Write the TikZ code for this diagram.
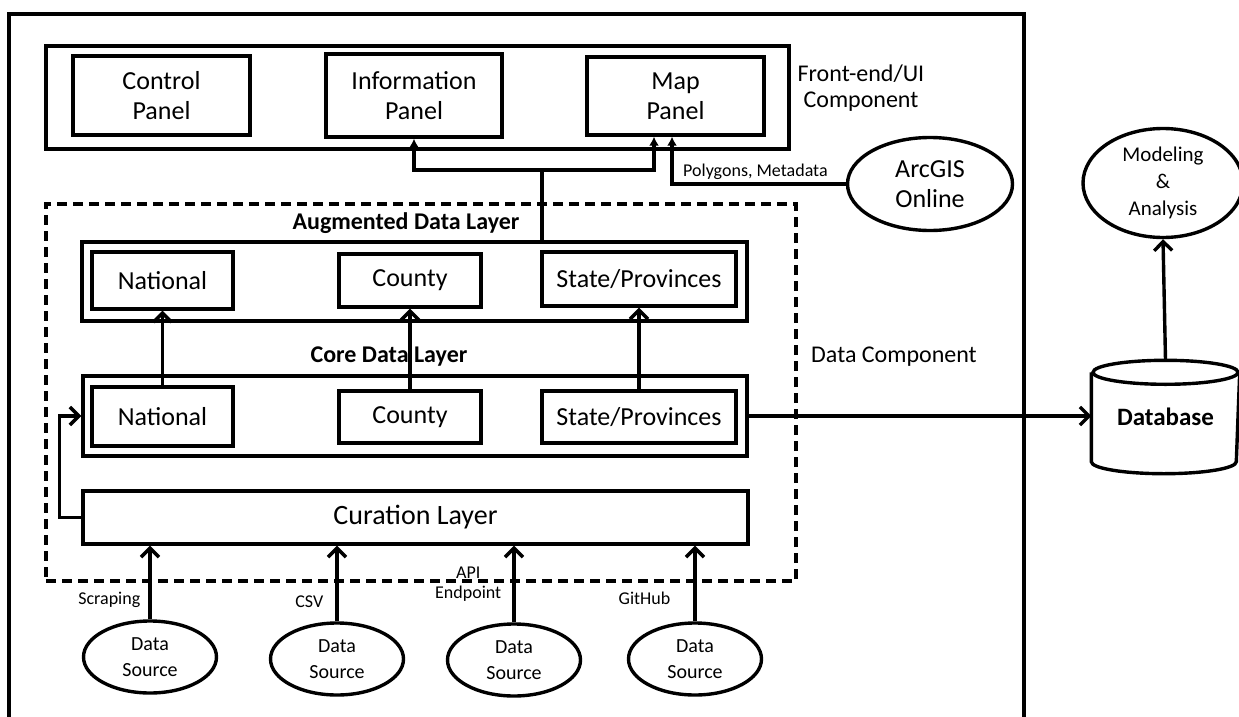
\documentclass[tikz,border=0pt]{standalone}
\usepackage{fontspec}
\setmainfont{Carlito}
\usetikzlibrary{arrows.meta,shapes.geometric}
\newcommand{\fs}[2]{\fontsize{#1}{#2}\selectfont}

\begin{document}
\begin{tikzpicture}[x=1pt,y=-1pt,line width=3.4pt,
  box/.style={draw,rectangle,inner sep=0pt,align=center,font=\fs{26}{30}},
  oval/.style={draw,ellipse,inner sep=0pt,align=center},
  title/.style={font=\bfseries\fs{24}{28}},
  lbl/.style={font=\fs{18}{20},align=center,inner sep=3pt},
  barb/.style={-{Straight Barb[length=9pt,width=18pt]}},
  tri/.style={-{Latex[length=9pt,width=10pt]}}]
  \path[use as bounding box,clip] (0,0) rectangle (1239,717);
  \draw (9,717) -- (9,14) -- (1024,14) -- (1024,717);
  % front-end
  \node[box,minimum width=743,minimum height=103] (front) at (417.5,97.5) {};
  \node[box,minimum width=177,minimum height=79] (ctrl) at (161.5,95.5) {Control\\Panel};
  \node[box,minimum width=176,minimum height=83] (info) at (414,95.5) {Information\\Panel};
  \node[box,minimum width=177,minimum height=78] (map) at (675.5,96) {Map\\Panel};
  \node[font=\fs{24}{26},align=center] (fel) at (861,88) {Front-end/UI\\Component};
  \node[oval,minimum width=165,minimum height=93,font=\fs{26}{30}] (arcgis) at (930,184) {ArcGIS\\Online};
  % data component
  \node[draw,dash pattern=on 10pt off 6pt,minimum width=750,minimum height=377] (datacomp) at (421,392.5) {};
  \node[font=\fs{24}{26}] (dcl) at (894,357) {Data Component};
  \node[title] (augt) at (406,223) {Augmented Data Layer};
  \node[box,minimum width=665,minimum height=79] (aug) at (414.5,281.5) {};
  \node[box,minimum width=141,minimum height=57] (augnat) at (162.5,280.5) {National};
  \node[box,minimum width=142,minimum height=53] (augcty) at (410,280.5) {County};
  \node[box,minimum width=194,minimum height=54] (augst) at (639,279) {State/Provinces};
  \node[title] (coret) at (389,357) {Core Data Layer};
  \node[box,minimum width=664,minimum height=80] (core) at (415,416) {};
  \node[box,minimum width=141,minimum height=59] (corenat) at (162.5,416.5) {National};
  \node[box,minimum width=142,minimum height=52] (corecty) at (410,417) {County};
  \node[box,minimum width=194,minimum height=52] (corest) at (639,417) {State/Provinces};
  \node[box,minimum width=665,minimum height=53,font=\fs{28}{30}] (cur) at (415.5,517.5) {Curation Layer};
  % right side
  \node[minimum width=145,minimum height=110,font=\bfseries\fs{25}{28}] (db) at (1165.5,417) {Database};
  \draw ([yshift=-12pt]db.north) ellipse [x radius=72.5pt,y radius=12pt];
  \draw ([yshift=-12pt]db.north west) -- ([yshift=12pt]db.south west)
    arc[start angle=180,end angle=360,x radius=72.5pt,y radius=12pt] -- ([yshift=-12pt]db.north east);
  \node[oval,minimum width=160,minimum height=109,font=\fs{21}{27}] (model) at (1163,183) {Modeling\\\&\\Analysis};
  % connectors
  \coordinate (fork) at (542,170);
  \draw (aug.north -| fork) -- (fork);
  \draw[tri] (fork) -| (info.south);
  \draw[tri] (fork) -| ([xshift=-21.5pt]map.south);
  \draw[tri] (arcgis.west) -| node[lbl,above,pos=0.26] (poly) {Polygons, Metadata} ([xshift=-3.5pt]map.south);
  \foreach \n in {nat,cty,st} \draw[barb] (core\n.north) -- (aug\n.south);
  \draw[barb] (cur.west) -- ++(-22,0) |- (core.west);
  \draw[barb] (core.east) -- (core.east -| db.west);
  \draw[barb] (db.north) -- (model.south);
  \foreach \i/\x/\y/\lab/\p/\g in {1/150/657/Scraping/0.26/5,2/337/659/CSV/0.26/9,
      3/514/660/{API\\Endpoint}/0.5/8,4/695/659/GitHub/0.31/20} {
    \node[oval,minimum width=133,minimum height=72,font=\fs{20}{26}] (ds\i) at (\x,\y) {Data\\Source};
    \draw[barb] (ds\i.north) -- node[lbl,left,xshift=-\g,pos=\p] (src\i) {\lab} (ds\i.north |- cur.south);
  }
\end{tikzpicture}
\end{document}
